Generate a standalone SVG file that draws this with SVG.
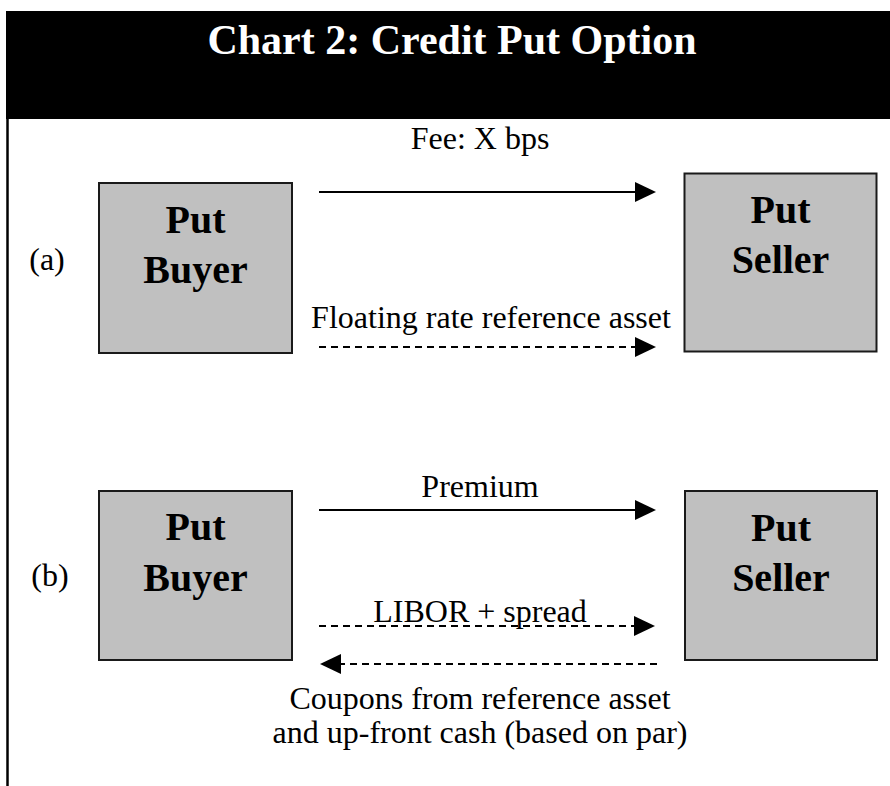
<svg xmlns="http://www.w3.org/2000/svg" width="890" height="786" viewBox="0 0 890 786">
<style>
.box{fill:#c0c0c0;stroke:#1a1a1a;stroke-width:2}
.nt{font-family:"Liberation Serif","Times New Roman",serif;font-weight:bold;font-size:40px;fill:#000;text-anchor:middle}
.lb{font-family:"Liberation Serif","Times New Roman",serif;font-size:32px;fill:#000;text-anchor:middle}
.ln{stroke:#000;stroke-width:2;fill:none}
.dash{stroke-dasharray:7 5}
</style>
<defs>
<marker id="ah" markerUnits="userSpaceOnUse" markerWidth="21" markerHeight="20" refX="1" refY="10" orient="auto">
<path d="M0,0 L21,10 L0,20 z" fill="#000"/>
</marker>
</defs>
<rect x="6" y="11" width="884" height="108" fill="#000"/>
<text x="452" y="54" font-family="'Liberation Serif','Times New Roman',serif" font-weight="bold" font-size="42" fill="#fff" text-anchor="middle">Chart 2: Credit Put Option</text>
<line x1="7.5" y1="11" x2="7.5" y2="786" stroke="#000" stroke-width="2.5"/>
<text class="lb" x="47" y="270">(a)</text>
<text class="lb" x="50" y="586">(b)</text>
<g id="buyer-a">
<rect class="box" x="99" y="183" width="193" height="170"/>
<text class="nt" x="195.5" y="233">Put</text>
<text class="nt" x="195.5" y="283">Buyer</text>
</g>
<g id="seller-a">
<rect class="box" x="684.5" y="173.5" width="192" height="178"/>
<text class="nt" x="780.5" y="223">Put</text>
<text class="nt" x="780.5" y="273">Seller</text>
</g>
<g id="buyer-b">
<rect class="box" x="99" y="491" width="193" height="169"/>
<text class="nt" x="195.5" y="540">Put</text>
<text class="nt" x="195.5" y="591">Buyer</text>
</g>
<g id="seller-b">
<rect class="box" x="685" y="491" width="192" height="169"/>
<text class="nt" x="781" y="541">Put</text>
<text class="nt" x="781" y="591">Seller</text>
</g>
<g id="connectors">
<line class="ln" x1="319" y1="192" x2="636" y2="192" marker-end="url(#ah)"/>
<line class="ln dash" x1="319" y1="347" x2="636" y2="347" marker-end="url(#ah)"/>
<line class="ln" x1="319" y1="510" x2="636" y2="510" marker-end="url(#ah)"/>
<line class="ln dash" x1="319" y1="626" x2="635" y2="626" marker-end="url(#ah)"/>
<line class="ln dash" x1="657" y1="664" x2="340" y2="664" marker-end="url(#ah)"/>
</g>
<g id="labels">
<text class="lb" x="480" y="149">Fee: X bps</text>
<text class="lb" x="491" y="328">Floating rate reference asset</text>
<text class="lb" x="480" y="497">Premium</text>
<text class="lb" x="480" y="622">LIBOR + spread</text>
<text class="lb" x="480" y="709">Coupons from reference asset</text>
<text class="lb" x="480" y="743">and up-front cash (based on par)</text>
</g>
</svg>
